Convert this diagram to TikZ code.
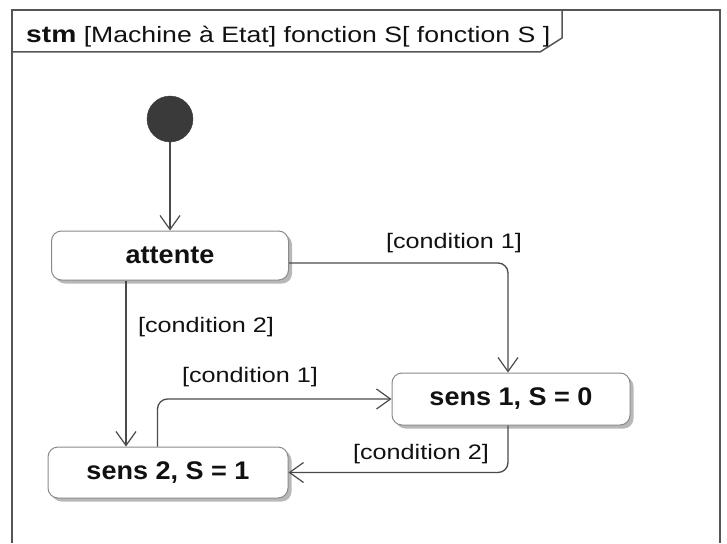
\documentclass[tikz,border=0pt]{standalone}
\usepackage{fontspec}
\setmainfont{Liberation Sans}
\newfontfamily\lblfont[FakeStretch=1.2]{Liberation Sans}
\newfontfamily\statefont[FakeStretch=1.06]{Liberation Sans}
\usetikzlibrary{arrows.meta,calc,shadows}
\definecolor{edge}{HTML}{4A4A4A}
\definecolor{ink}{HTML}{111111}
\definecolor{initfill}{HTML}{3A3A3A}
\definecolor{boxline}{HTML}{8A8A8A}
\definecolor{framecol}{HTML}{555555}

\tikzset{
  state/.style={draw=boxline, line width=1pt, fill=white, rounded corners=10pt,
    minimum width=238pt, minimum height=50pt, inner sep=0pt,
    drop shadow={shadow xshift=3.5pt, shadow yshift=-3.5pt, fill=black!35, opacity=0.8},
    font=\statefont\bfseries\fontsize{25.5}{30}\selectfont, text=ink},
  initial/.style={circle, fill=initfill, draw=initfill, minimum size=46pt, inner sep=0pt},
  trans/.style={draw=edge, line width=1.3pt, rounded corners=10pt,
    -{Straight Barb[length=14pt, width=20pt, line width=1.2pt]}},
  guard/.style={font=\lblfont\fontsize{21}{25}\selectfont, text=ink, inner sep=0pt},
  framebox/.style={draw=framecol, line width=1.5pt},
}

\begin{document}
\begin{tikzpicture}[x=1pt, y=-1pt]
  \useasboundingbox (0,0) rectangle (727,543);

  % diagram frame and its name tab
  \draw[framebox] (12,543) -- (12,10) -- (720,10) -- (720,543);
  \draw[framebox] (12,52) -- (540,52) -- (562,38) -- (562,10);
  \node[anchor=base west, inner sep=0pt, text=ink, font=\lblfont\fontsize{22.2}{26}\selectfont]
    (title) at (26,42) {{\bfseries\fontsize{23.5}{26}\selectfont stm} [Machine à Etat] fonction S[ fonction S ]};

  % states
  \node[initial] (init) at (170,119) {};
  \node[state, minimum width=237pt, minimum height=49pt] (attente) at (170,255.5) {attente};
  \node[state, minimum height=52pt] (sens1) at (511,399) {sens 1, S = 0};
  \node[state, minimum width=240pt, minimum height=51pt] (sens2) at (168,472.5) {sens 2, S = 1};

  % transitions
  \draw[trans] (init) -- (attente);
  \draw[trans] ([yshift=-7.5pt]attente.east) -| ([xshift=-3pt]sens1.north);
  \coordinate (a2) at ([xshift=75pt]attente.south west);
  \draw[trans] (a2) -- (a2 |- sens2.north);
  \draw[trans] ([xshift=110pt]sens2.north west) |- (sens1.west);
  \draw[trans] ([xshift=-3pt]sens1.south) |- (sens2.east);

  % guards
  \node[guard] (g1) at (454,243) {[condition 1]};
  \node[guard] (g2) at (206,327) {[condition 2]};
  \node[guard] (g3) at (250,377) {[condition 1]};
  \node[guard] (g4) at (421,454) {[condition 2]};
\end{tikzpicture}
\end{document}
